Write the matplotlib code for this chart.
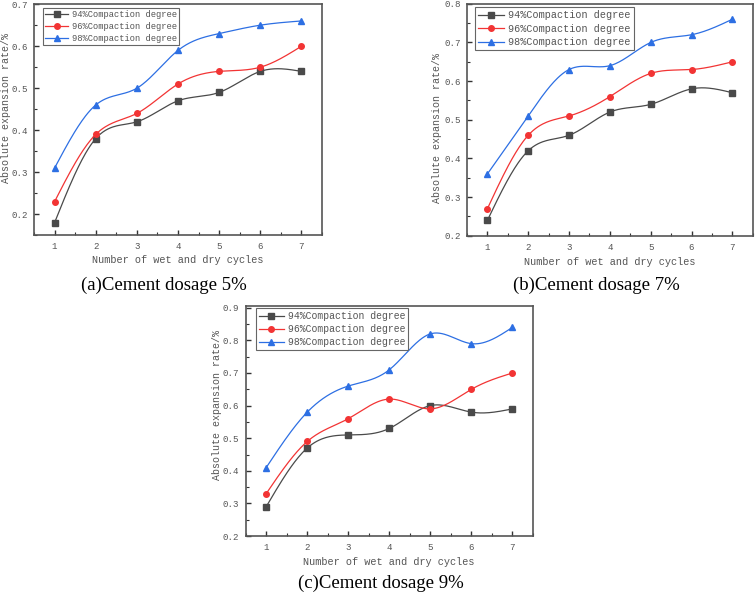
import numpy as np
import matplotlib
matplotlib.use('Agg')
import matplotlib.pyplot as plt
from matplotlib.ticker import MultipleLocator

plt.rcParams['font.family'] = ['Liberation Mono', 'DejaVu Sans Mono']

# データ
cycles = [1, 2, 3, 4, 5, 6, 7]
labels = ['94%Compaction degree', '96%Compaction degree', '98%Compaction degree']

dose5_94 = [0.18, 0.38, 0.42, 0.47, 0.49, 0.54, 0.54]
dose5_96 = [0.23, 0.39, 0.44, 0.51, 0.54, 0.55, 0.60]
dose5_98 = [0.31, 0.46, 0.50, 0.59, 0.63, 0.65, 0.66]

dose7_94 = [0.24, 0.42, 0.46, 0.52, 0.54, 0.58, 0.57]
dose7_96 = [0.27, 0.46, 0.51, 0.56, 0.62, 0.63, 0.65]
dose7_98 = [0.36, 0.51, 0.63, 0.64, 0.70, 0.72, 0.76]

dose9_94 = [0.29, 0.47, 0.51, 0.53, 0.60, 0.58, 0.59]
dose9_96 = [0.33, 0.49, 0.56, 0.62, 0.59, 0.65, 0.70]
dose9_98 = [0.41, 0.58, 0.66, 0.71, 0.82, 0.79, 0.84]

captions = ['(a)Cement dosage 5%', '(b)Cement dosage 7%', '(c)Cement dosage 9%']

colors = ['#4a4a4a', '#f23434', '#2d6fe3']
markers = ['s', 'o', '^']
text_color = '#555555'


# 自然三次スプライン（曲線を滑らかにするため）
def natural_spline(x, y, n=200):
    x = np.asarray(x, float)
    y = np.asarray(y, float)
    k = len(x)
    h = np.diff(x)
    A = np.zeros((k, k))
    b = np.zeros(k)
    A[0, 0] = 1
    A[-1, -1] = 1
    for i in range(1, k - 1):
        A[i, i - 1] = h[i - 1]
        A[i, i] = 2 * (h[i - 1] + h[i])
        A[i, i + 1] = h[i]
        b[i] = 6 * ((y[i + 1] - y[i]) / h[i] - (y[i] - y[i - 1]) / h[i - 1])
    M = np.linalg.solve(A, b)
    xs = np.linspace(x[0], x[-1], n)
    idx = np.clip(np.searchsorted(x, xs) - 1, 0, k - 2)
    x0, x1 = x[idx], x[idx + 1]
    hh = x1 - x0
    t0 = x1 - xs
    t1 = xs - x0
    ys = (M[idx] * t0 ** 3 + M[idx + 1] * t1 ** 3) / (6 * hh) \
        + (y[idx] / hh - M[idx] * hh / 6) * t0 \
        + (y[idx + 1] / hh - M[idx + 1] * hh / 6) * t1
    return xs, ys


fig = plt.figure(figsize=(7.56, 5.94), dpi=100)

panels = [
    dict(rect=[0.045, 0.604, 0.381, 0.389], series=[dose5_94, dose5_96, dose5_98],
         ylim=(0.15, 0.70), leg=(0.03, 0.985), legsize=6.3,
         legspace=0.32, xl=(0.498, -0.108), yl=(-0.096, 0.55),
         cap=(164 / 756, 1 - 285 / 594)),
    dict(rect=[0.6177, 0.603, 0.378, 0.3906], series=[dose7_94, dose7_96, dose7_98],
         ylim=(0.2, 0.8), leg=(0.028, 0.985), legsize=7.3,
         legspace=0.35, xl=(0.499, -0.112), yl=(-0.104, 0.465),
         cap=(596 / 756, 1 - 285 / 594)),
    dict(rect=[0.325, 0.0976, 0.380, 0.387], series=[dose9_94, dose9_96, dose9_98],
         ylim=(0.2, 0.905), leg=(0.035, 0.99), legsize=7.0,
         legspace=0.3, xl=(0.498, -0.112), yl=(-0.1, 0.57),
         cap=(381 / 756, 1 - 583 / 594)),
]

for p, cap in zip(panels, captions):
    ax = fig.add_axes(p['rect'])
    for vals, c, m, lab in zip(p['series'], colors, markers, labels):
        xs, ys = natural_spline(cycles, vals)
        ax.plot(xs, ys, color=c, lw=0.9)
        ax.plot(cycles, vals, ls='none', marker=m, color=c, ms=4)
        ax.plot([], [], color=c, marker=m, ms=4, lw=0.9, label=lab)

    ax.set_xlim(0.5, 7.5)
    ax.set_ylim(*p['ylim'])
    ax.set_xticks(cycles)
    ax.yaxis.set_major_locator(MultipleLocator(0.1))
    ax.yaxis.set_minor_locator(MultipleLocator(0.05))
    ax.xaxis.set_minor_locator(MultipleLocator(0.5))
    ax.yaxis.set_major_formatter(plt.FuncFormatter(lambda v, pos: f'{v:.1f}'))
    ax.tick_params(which='both', direction='in', top=False, right=False,
                   labelsize=6.6, labelcolor=text_color, color='#333333')
    ax.tick_params(which='major', length=3.5, width=1)
    ax.tick_params(axis='y', pad=4.5)
    ax.tick_params(axis='x', pad=5)
    ax.tick_params(which='minor', length=2, width=0.8)
    for s in ax.spines.values():
        s.set_color('#555555')
        s.set_linewidth(1.2)

    ax.set_xlabel('Number of wet and dry cycles', fontsize=7.4, color=text_color)
    ax.set_ylabel('Absolute expansion rate/%', fontsize=7.2, color=text_color)
    ax.xaxis.set_label_coords(*p['xl'])
    ax.yaxis.set_label_coords(*p['yl'])
    ax.xaxis.label.set_va('center')
    ax.yaxis.label.set_va('center')

    leg = ax.legend(loc='upper left', bbox_to_anchor=p['leg'], borderaxespad=0,
                    fancybox=False, edgecolor='#666666', fontsize=p['legsize'],
                    handlelength=2.6, labelspacing=p['legspace'], borderpad=0.3,
                    handletextpad=0.4, framealpha=1)
    leg.get_frame().set_linewidth(0.8)
    for t in leg.get_texts():
        t.set_color(text_color)

    fig.text(p['cap'][0], p['cap'][1], cap, ha='center', va='center',
             fontsize=13.5, family='Liberation Serif', color='black')

plt.savefig('out.png', dpi=100)
